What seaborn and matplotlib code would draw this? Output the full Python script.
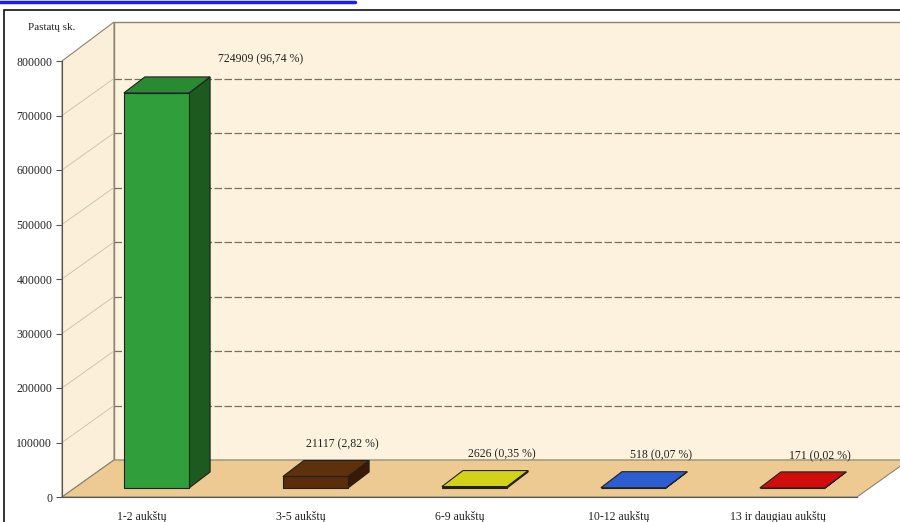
import numpy as np
import pandas as pd
import matplotlib
matplotlib.use("Agg")
import matplotlib.pyplot as plt
import matplotlib.transforms as mtransforms
from matplotlib.patches import Polygon, Rectangle
import seaborn as sns

# data
categories = ["1-2 aukštų", "3-5 aukštų", "6-9 aukštų", "10-12 aukštų", "13 ir daugiau aukštų"]
counts = [724909, 21117, 2626, 518, 171]
shares = ["96,74", "2,82", "0,35", "0,07", "0,02"]
yticks = [0, 100000, 200000, 300000, 400000, 500000, 600000, 700000, 800000]

front_colors = ["#2f9e3b", "#5b2c08", "#c9c912", "#2456c8", "#c80808"]
side_colors = ["#1c5a20", "#3a1a04", "#8e8e08", "#173a8a", "#880404"]
top_colors = ["#2a8a34", "#5e300c", "#d2d218", "#2c5ed2", "#d00c0c"]

df = pd.DataFrame({"cat": categories, "n": counts})

sns.set_style("white")
plt.rcParams["font.family"] = ["Liberation Serif", "DejaVu Serif"]

W, H = 900, 522
fig = plt.figure(figsize=(W / 100, H / 100), dpi=100)
ax = fig.add_axes([62 / W, 25 / H, 795 / W, 436 / H])
ax.set_xlim(-0.5, 4.5)
ax.set_ylim(0, 800000)
ax.patch.set_visible(False)

# depth offsets in pixels (x right, y up in display)
wall_dx, wall_dy = 52, 37
bf_dx, bf_dy = 15, 9      # bar front
bb_dx, bb_dy = 36, 25     # bar back

ident = mtransforms.IdentityTransform()


def disp(x, y):
    return ax.transData.transform((x, y))


def poly(pts, fc, ec="none", lw=0.8, z=1):
    p = Polygon(pts, closed=True, facecolor=fc, edgecolor=ec, linewidth=lw,
                transform=ident, clip_on=False, zorder=z)
    ax.add_patch(p)
    return p


# walls
x0, y0 = disp(-0.5, 0)
x1, y1 = disp(4.5, 800000)
back = [(x0 + wall_dx, y0 + wall_dy), (W + 5, y0 + wall_dy),
        (W + 5, y1 + wall_dy + 2), (x0 + wall_dx, y1 + wall_dy + 2)]
poly(back, "#fdf2de", ec="#8a8470", lw=1.0, z=0.1)
left = [(x0, y0), (x0 + wall_dx, y0 + wall_dy), (x0 + wall_dx, y1 + wall_dy + 2), (x0, y1)]
poly(left, "#fcefd9", ec="#8a8470", lw=0.8, z=0.2)
floor = [(x0, y0), (x1, y0), (x1 + wall_dx, y0 + wall_dy), (x0 + wall_dx, y0 + wall_dy)]
poly(floor, "#ecca92", ec="#8a8470", lw=0.8, z=0.3)

# grid on back and left wall
for t in yticks[1:-1]:
    gx, gy = disp(-0.5, t)
    ax.plot([gx + wall_dx, W + 5], [gy + wall_dy, gy + wall_dy], transform=ident,
            color="#7a7060", lw=0.9, ls=(0, (6, 2)), clip_on=False, zorder=0.5)
    ax.plot([gx, gx + wall_dx], [gy, gy + wall_dy], transform=ident,
            color="#c8bea8", lw=0.6, clip_on=False, zorder=0.5)

# front faces of the bars
sns.barplot(data=df, x="cat", y="n", hue="cat", palette=front_colors, width=0.41,
            saturation=1, legend=False, ax=ax, edgecolor="#202020", linewidth=0.8,
            zorder=3)
shift = mtransforms.ScaledTranslation(bf_dx / 100, bf_dy / 100, fig.dpi_scale_trans)
for i, bar in enumerate(ax.patches[-5:]):
    bar.set_transform(ax.transData + shift)
    bar.set_clip_on(False)
    bx, bw, bh = bar.get_x(), bar.get_width(), bar.get_height()
    lx, by = disp(bx, 0)
    rx, ty = disp(bx + bw, bh)
    lx, rx, by, ty = lx + bf_dx, rx + bf_dx, by + bf_dy, ty + bf_dy
    ddx, ddy = bb_dx - bf_dx, bb_dy - bf_dy
    side = [(rx, by), (rx + ddx, by + ddy), (rx + ddx, ty + ddy), (rx, ty)]
    top = [(lx, ty), (rx, ty), (rx + ddx, ty + ddy), (lx + ddx, ty + ddy)]
    poly(side, side_colors[i], ec="#202020", z=2.9)
    poly(top, top_colors[i], ec="#202020", z=3.1)
    label = f"{counts[i]} ({shares[i]} %)"
    if bh > 400000:
        ax.text(rx + ddx + 8, ty + ddy + 12, label, transform=ident, ha="left",
                va="bottom", fontsize=8.5, color="#222222", zorder=5)
    else:
        cx = (lx + rx) / 2 + ddx + 6
        ax.text(cx, ty + ddy + 10, label, transform=ident, ha="center",
                va="bottom", fontsize=8.5, color="#222222", zorder=5)

# axes styling
for s in ["top", "right"]:
    ax.spines[s].set_visible(False)
ax.spines["left"].set_color("#555555")
ax.spines["bottom"].set_color("#555555")
ax.spines["left"].set_zorder(4)
ax.spines["bottom"].set_zorder(4)
ax.set_yticks(yticks)
ax.set_yticklabels([str(t) for t in yticks], fontsize=8.5, color="#222222")
ax.set_xticks(range(5))
ax.set_xticklabels(categories, fontsize=8.5, color="#222222")
ax.set_xticks([0.5, 1.5, 2.5, 3.5, 4.5], minor=True)
ax.tick_params(axis="x", which="major", length=0, pad=10)
ax.tick_params(axis="x", which="minor", length=6, color="#555555", direction="out")
ax.tick_params(axis="y", length=4, color="#555555", direction="out", pad=3, left=True)
ax.set_xlabel("")
ax.set_ylabel("")
fig.text(28 / W, 1 - 28 / H, "Pastatų sk.", fontsize=8, color="#222222", va="center")

# outer frame and the link underline at the top
fig.patches.append(Rectangle((4 / W, -0.01), 1, 1 - 10 / H + 0.01, transform=fig.transFigure,
                             fill=False, edgecolor="#111111", linewidth=1.2))
fig.lines.append(plt.Line2D([0, 355 / W], [1 - 2 / H, 1 - 2 / H], transform=fig.transFigure,
                            color="#1a1aff", lw=2.5))

fig.savefig("out.png", dpi=100)
